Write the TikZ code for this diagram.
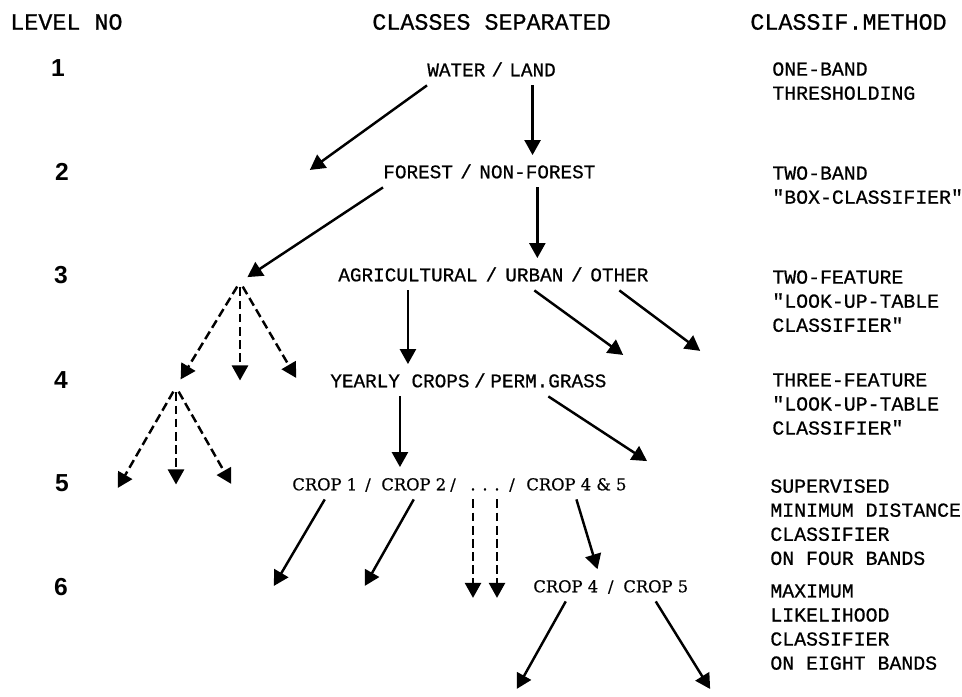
\documentclass[tikz,border=0pt]{standalone}
\usepackage{fontspec}
\setmonofont[FakeBold=0.7]{Liberation Mono}
\newfontfamily\levelfont{Liberation Sans}
\newfontfamily\cropfont[FakeBold=0.5]{DejaVu Serif}
\usetikzlibrary{arrows.meta,positioning,calc}

\begin{document}
\begin{tikzpicture}[
  x=0.02cm, y=-0.02cm,
  head/.style={font=\ttfamily\fontsize{13.3}{16}\selectfont, anchor=west, inner sep=0pt},
  level/.style={font=\levelfont\bfseries\fontsize{14}{16}\selectfont, inner sep=0pt},
  cls/.style={font=\ttfamily\fontsize{11}{13}\selectfont, anchor=west, inner xsep=0pt, inner ysep=4pt,
    text height=7pt, text depth=1pt},
  crop/.style={font=\cropfont\fontsize{9.3}{11}\selectfont, anchor=west, inner xsep=0pt, inner ysep=4pt,
    text height=7pt, text depth=1pt},
  method/.style={font=\ttfamily\fontsize{11.3}{13.7}\selectfont, anchor=north west, align=left, inner sep=0pt},
  arr/.style={line width=1.4pt, shorten >=2pt, -{Triangle[length=0.3cm, width=0.32cm]}},
  darr/.style={arr, dash pattern=on 5pt off 2.5pt},
  fork/.style={circle, inner sep=0pt, minimum size=0.2cm}
]
  \useasboundingbox (0,0) rectangle (962,696);

  % column heads
  \node[head] (hlevel)  at (10,22)  {LEVEL NO};
  \node[head] (hclass)  at (372,22) {CLASSES SEPARATED};
  \node[head] (hmethod) at (750,22) {CLASSIF.METHOD};

  % level numbers
  \node[level] (l1) at (58,68)  {1};
  \node[level] (l2) at (62,172) {2};
  \node[level] (l3) at (61,275) {3};
  \node[level] (l4) at (61,380) {4};
  \node[level] (l5) at (62,483) {5};
  \node[level] (l6) at (61,587) {6};

  % classes separated
  \node[cls] (water) at (427,71) {WATER};
  \node[cls] (land)  at (509,71) {LAND};
  \node[cls, anchor=center] (s1) at ($(water.east)!.5!(land.west)$) {/};

  \node[cls] (forest)    at (383,173) {FOREST};
  \node[cls] (nonforest) at (479,173) {NON-FOREST};
  \node[cls, anchor=center] (s2) at ($(forest.east)!.5!(nonforest.west)$) {/};

  \node[cls] (agri)  at (338,276) {AGRICULTURAL};
  \node[cls] (urban) at (505,276) {URBAN};
  \node[cls] (other) at (590,276) {OTHER};
  \node[cls, anchor=center] (s3a) at ($(agri.east)!.5!(urban.west)$) {/};
  \node[cls, anchor=center] (s3b) at ($(urban.east)!.5!(other.west)$) {/};

  \node[cls] (yearly) at (330,382) {YEARLY CROPS};
  \node[cls] (perm)   at (490,382) {PERM.GRASS};
  \node[cls, anchor=center] (s4) at ($(yearly.east)!.5!(perm.west)$) {/};

  \node[crop] (crop1)  at (292,485) {CROP 1};
  \node[crop] (crop2)  at (381,485) {CROP 2};
  \node[crop, anchor=center] (d1) at (473,485) {.};
  \node[crop, anchor=center] (d2) at (485,485) {.};
  \node[crop, anchor=center] (d3) at (497,485) {.};
  \node[crop] (crop45) at (526,485) {CROP 4 \& 5};
  \node[crop, anchor=center] (s5a) at (368,485) {/};
  \node[crop, anchor=center] (s5b) at (453,485) {/};
  \node[crop, anchor=center] (s5c) at (512,485) {/};

  \node[crop] (crop4) at (533,587) {CROP 4};
  \node[crop] (crop5) at (623,587) {CROP 5};
  \node[crop, anchor=center] (s6) at ($(crop4.east)!.5!(crop5.west)$) {/};

  % classification methods
  \node[method] (m1) at (772,62)  {ONE-BAND\\THRESHOLDING};
  \node[method] (m2) at (772,166) {TWO-BAND\\"BOX-CLASSIFIER"};
  \node[method] (m3) at (772,270) {TWO-FEATURE\\"LOOK-UP-TABLE\\CLASSIFIER"};
  \node[method] (m4) at (772,373) {THREE-FEATURE\\"LOOK-UP-TABLE\\CLASSIFIER"};
  \node[method] (m5) at (770,479) {SUPERVISED\\MINIMUM DISTANCE\\CLASSIFIER\\ON FOUR BANDS};
  \node[method] (m6) at (770,584) {MAXIMUM\\LIKELIHOOD\\CLASSIFIER\\ON EIGHT BANDS};

  % unlabelled branch points
  \node[fork] (f3) at (240,282) {};
  \node[fork] (f4) at (176,387) {};
  \coordinate (w2) at (307,172);
  \coordinate (u4) at (626,357);
  \coordinate (o4) at (703,353);
  \coordinate (p5) at (650,463);
  \coordinate (c1) at (272,589);
  \coordinate (c2) at (363,589);
  \coordinate (c4) at (515,692);
  \coordinate (c5) at (712,692);
  \coordinate (f3a) at (240,384);
  \coordinate (f3b) at (298,381);
  \coordinate (f4a) at (116,491);
  \coordinate (f4b) at (176,488);
  \coordinate (f4c) at (233,487);

  % solid splits
  \draw[arr] (water.south west) -- (w2);
  \draw[arr] (land.south) -- (land.south |- nonforest.north);
  \draw[arr] (forest.south west) -- (f3);
  \draw[arr] (nonforest.south) -- (nonforest.south |- agri.north);
  \draw[arr] (agri.south) -- (agri.south |- yearly.north);
  \draw[arr] (urban.south) -- (u4);
  \draw[arr] (other.south) -- (o4);
  \draw[arr] (yearly.south) -- (yearly.south |- crop1.north);
  \draw[arr] (perm.south) -- (p5);
  \draw[arr] (crop1.south) -- (c1);
  \draw[arr] (crop2.south) -- (c2);
  \draw[arr] (crop45.south) -- (crop4.north east);
  \draw[arr] (crop4.south) -- (c4);
  \draw[arr] (crop5.south) -- (c5);

  % further splits, not shown in detail
  \draw[darr] (f3) -- (f4);
  \draw[darr] (f3) -- (f3a);
  \draw[darr] (f3) -- (f3b);
  \draw[darr] (f4) -- (f4a);
  \draw[darr] (f4) -- (f4b);
  \draw[darr] (f4) -- (f4c);
  \draw[darr] (d1.south) -- (d1.south |- crop4.south);
  \draw[darr] (d3.south) -- (d3.south |- crop4.south);
\end{tikzpicture}
\end{document}
